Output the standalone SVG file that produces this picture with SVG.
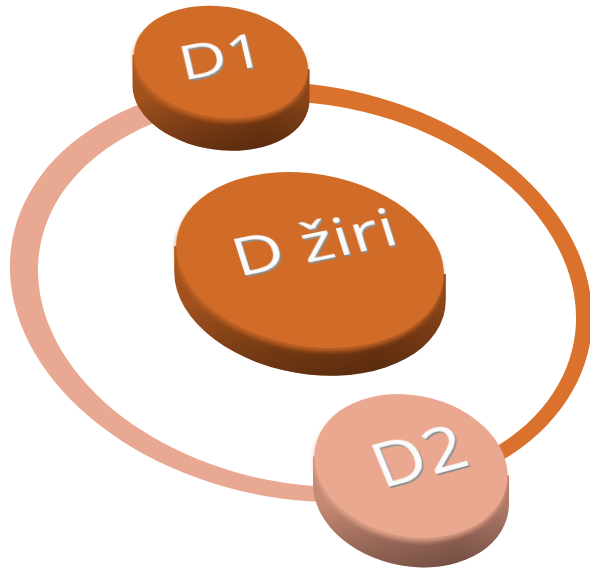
<svg xmlns="http://www.w3.org/2000/svg" width="590" height="568" viewBox="0 0 590 568">
  <defs>
    <style>
      .label { font-family: "Open Sans", "Liberation Sans", sans-serif; font-weight: 500; fill: #fbfbfb; text-anchor: middle; filter: url(#raised); }
      .ring-warm { fill: #da722d; }
      .ring-soft { fill: #e9a891; }
      .face-dark { fill: #d06b28; }
      .face-soft { fill: #e9a88f; }
      .rim { filter: url(#soften); }
    </style>
    <!-- raised lettering: grey extrusion under white glyphs -->
    <filter id="raised" x="-20%" y="-30%" width="140%" height="170%">
      <feOffset in="SourceAlpha" dx="1" dy="2.8" result="off"/>
      <feFlood flood-color="#8e8e8e"/>
      <feComposite in2="off" operator="in" result="shade"/>
      <feMerge>
        <feMergeNode in="shade"/>
        <feMergeNode in="SourceGraphic"/>
      </feMerge>
    </filter>
    <!-- soft rounded edge between a disc face and its side -->
    <filter id="soften" x="-10%" y="-10%" width="120%" height="120%">
      <feGaussianBlur stdDeviation="2.2"/>
    </filter>
    <linearGradient id="sideDark" x1="0" y1="0" x2="1" y2="0">
      <stop offset="0" stop-color="#a5531e"/>
      <stop offset="0.35" stop-color="#8e4618"/>
      <stop offset="0.75" stop-color="#7a3b13"/>
      <stop offset="1" stop-color="#8a4418"/>
    </linearGradient>
    <linearGradient id="sideSoft" x1="0" y1="0" x2="1" y2="0">
      <stop offset="0" stop-color="#c68a75"/>
      <stop offset="0.35" stop-color="#b57b68"/>
      <stop offset="0.75" stop-color="#a06c5c"/>
      <stop offset="1" stop-color="#b07a68"/>
    </linearGradient>
    <!-- darkening toward the lower edge of a disc side -->
    <linearGradient id="sideShade" x1="0" y1="0" x2="0" y2="1">
      <stop offset="0.45" stop-color="#000" stop-opacity="0"/>
      <stop offset="1" stop-color="#000" stop-opacity="0.28"/>
    </linearGradient>
    <!-- split of the ring into its two coloured halves -->
    <clipPath id="leftHalf"><polygon points="0,0 192,0 458,568 0,568"/></clipPath>
    <clipPath id="rightHalf"><polygon points="192,0 590,0 590,568 458,568"/></clipPath>
  </defs>

  <rect width="590" height="568" fill="#ffffff"/>

  <!-- connectors: the orbit ring -->
  <g id="connectors" fill-rule="evenodd">
    <path class="ring-soft" clip-path="url(#leftHalf)"
          d="M 590 292 A 289 204 10 1 0 12 292 A 289 204 10 1 0 590 292 Z M 574 294 A 267 187 10 1 0 40 294 A 267 187 10 1 0 574 294 Z"/>
    <path class="ring-warm" clip-path="url(#rightHalf)"
          d="M 590 292 A 289 204 10 1 0 12 292 A 289 204 10 1 0 590 292 Z M 574 294 A 267 187 10 1 0 40 294 A 267 187 10 1 0 574 294 Z"/>
  </g>

  <!-- centre disc -->
  <g id="node-dziri" transform="translate(310,260)">
    <path fill="url(#sideDark)" d="M -135.8 -13.9 L -135.8 12.1 A 137 88 10 0 0 135.8 39.9 L 135.8 13.9 Z"/>
    <path fill="url(#sideShade)" d="M -135.8 -13.9 L -135.8 12.1 A 137 88 10 0 0 135.8 39.9 L 135.8 13.9 Z"/>
    <ellipse class="face-dark rim" rx="135" ry="86" cy="4" transform="rotate(10)" opacity="0.8"/>
    <ellipse class="face-dark" rx="135" ry="86" transform="rotate(10)"/>
    <text class="label" font-size="70" y="25" transform="matrix(0.98 -0.2 0.23 0.73 4 -18)">D žiri</text>
  </g>

  <!-- upper disc -->
  <g id="node-d1" transform="translate(221,62)">
    <path fill="url(#sideDark)" d="M -88.5 -7.3 L -88.5 23.7 A 89 57 8 0 0 88.5 38.3 L 88.5 7.3 Z"/>
    <path fill="url(#sideShade)" d="M -88.5 -7.3 L -88.5 23.7 A 89 57 8 0 0 88.5 38.3 L 88.5 7.3 Z"/>
    <ellipse class="face-dark rim" rx="87.5" ry="55.5" cy="4" transform="rotate(8)" opacity="0.8"/>
    <ellipse class="face-dark" rx="87.5" ry="55.5" transform="rotate(8)"/>
    <text class="label" font-size="66" y="23.6" transform="matrix(0.982 -0.19 0.16 0.69 0 -6)">D1</text>
  </g>

  <!-- lower disc -->
  <g id="node-d2" transform="translate(411,466)">
    <path fill="url(#sideSoft)" d="M -98 -9.6 L -98 18.4 A 99 72 12 0 0 98 37.6 L 98 9.6 Z"/>
    <path fill="url(#sideShade)" d="M -98 -9.6 L -98 18.4 A 99 72 12 0 0 98 37.6 L 98 9.6 Z"/>
    <ellipse class="face-soft rim" rx="97.5" ry="70.5" cy="4" transform="rotate(12)" opacity="0.8"/>
    <ellipse class="face-soft" rx="97.5" ry="70.5" transform="rotate(12)"/>
    <text class="label" font-size="72" y="25.7" transform="matrix(0.965 -0.26 0.33 0.8 8 -10)">D2</text>
  </g>
</svg>
